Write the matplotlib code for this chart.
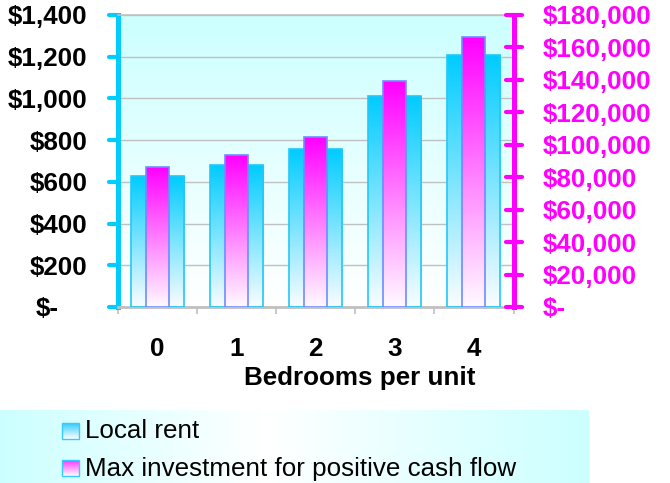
import numpy as np
import matplotlib
matplotlib.use("Agg")
import matplotlib.pyplot as plt
import matplotlib.lines as mlines
from matplotlib.colors import LinearSegmentedColormap
from matplotlib.markers import MarkerStyle
from matplotlib.ticker import FuncFormatter
from matplotlib.transforms import ScaledTranslation
from matplotlib.patches import Rectangle

# ---------------- data ----------------
categories = ["0", "1", "2", "3", "4"]
local_rent = [627, 680, 757, 1011, 1208]
max_investment = [86000, 93400, 104700, 139100, 166200]
left_ticks = [0, 200, 400, 600, 800, 1000, 1200, 1400]
right_ticks = [0, 20000, 40000, 60000, 80000, 100000, 120000, 140000, 160000, 180000]
series_names = ["Local rent", "Max investment for positive cash flow"]
x_title = "Bedrooms per unit"

# ---------------- style ----------------
plt.rcParams['font.family'] = ['Liberation Sans', 'DejaVu Sans']
plt.rcParams['font.weight'] = 'bold'
FS = 18.7
W, H = 670, 483
CYAN = '#00CCFF'
MAG = '#FF00FF'
GRID = '#C0C0C0'

fig = plt.figure(figsize=(W / 100, H / 100), dpi=100)
ax = fig.add_axes([117.5 / W, 1 - 307 / H, 396 / W, 292 / H])
ax2 = ax.twinx()
ax2.patch.set_visible(False)

grad = np.linspace(0, 1, 256).reshape(-1, 1)

# plot-area background gradient
bg_cmap = LinearSegmentedColormap.from_list('bg', ['#FFFFFF', '#CCFFFF'])
ax.imshow(grad, cmap=bg_cmap, extent=[0, 1, 0, 1], transform=ax.transAxes,
          aspect='auto', origin='lower', zorder=0)

x = np.arange(len(categories))
blue_cmap = LinearSegmentedColormap.from_list('b', ['#FAFDFF', '#00CCFF'])
mag_cmap = LinearSegmentedColormap.from_list('m', ['#FFFAFF', '#FF00FF'])

bars1 = ax.bar(x, local_rent, width=0.67, facecolor='none',
               edgecolor='#22C8F8', linewidth=1.2, zorder=3)
for b in bars1:
    x0, w, h = b.get_x(), b.get_width(), b.get_height()
    ax.imshow(grad, cmap=blue_cmap, extent=[x0, x0 + w, 0, h],
              origin='lower', aspect='auto', zorder=2)

bars2 = ax2.bar(x, max_investment, width=0.29, facecolor='none',
                edgecolor='#6F8CFF', linewidth=1.2, zorder=3)
for b in bars2:
    x0, w, h = b.get_x(), b.get_width(), b.get_height()
    ax2.imshow(grad, cmap=mag_cmap, extent=[x0, x0 + w, 0, h],
               origin='lower', aspect='auto', zorder=2)

ax.set_xlim(-0.5, len(categories) - 0.5)
ax.set_ylim(left_ticks[0], left_ticks[-1])
ax2.set_ylim(right_ticks[0], right_ticks[-1])

# grid
ax.set_axisbelow(True)
ax.yaxis.grid(True, color=GRID, linewidth=1.0)

# spines
for s in ['right']:
    ax.spines[s].set_visible(False)
ax.spines['left'].set_color(CYAN)
ax.spines['left'].set_linewidth(3.6)
ax.spines['top'].set_color(GRID)
ax.spines['top'].set_linewidth(1.2)
ax.spines['bottom'].set_color(GRID)
ax.spines['bottom'].set_linewidth(2.0)
for s in ['left', 'top', 'bottom']:
    ax2.spines[s].set_visible(False)
ax2.spines['right'].set_color(MAG)
ax2.spines['right'].set_linewidth(3.6)

# y ticks
money = lambda v, p: "$-" if v == 0 else f"${v:,.0f}"
ax.set_yticks(left_ticks)
ax.yaxis.set_major_formatter(FuncFormatter(money))
ax.tick_params(axis='y', direction='out', length=6.5, width=3, color=CYAN,
               pad=15, labelsize=FS, labelcolor='black')
ax2.set_yticks(right_ticks)
ax2.yaxis.set_major_formatter(FuncFormatter(money))
ax2.tick_params(axis='y', direction='inout', length=11.5, width=3, color=MAG,
                pad=15.5, labelsize=FS, labelcolor=MAG)

# x ticks
ax.set_xticks(x, categories)
ax.set_xticks(np.arange(-0.5, len(categories), 1.0), minor=True)
ax.tick_params(axis='x', which='major', length=0, pad=21.5, labelsize=FS)
ax.tick_params(axis='x', which='minor', length=5, width=1.2, color=GRID)

ax.set_xlabel(x_title, fontsize=FS, fontweight='bold')
ax.xaxis.set_label_coords((360 - 117.5) / 396, (307 - 385) / 292)
ax.xaxis.label.set_va('baseline')

# rounded tick caps
for t in ax.yaxis.get_major_ticks():
    t.tick1line.set_marker(MarkerStyle(mlines.TICKLEFT, capstyle='round'))
for t in ax2.yaxis.get_major_ticks():
    t.tick2line.set_marker(MarkerStyle('_', capstyle='round'))

# accounting-style "$-" on left axis (padding of two digit widths)
fig.canvas.draw()
zero_lbl = ax.yaxis.get_major_ticks()[0].label1
zero_lbl.set_transform(zero_lbl.get_transform() +
                       ScaledTranslation(-0.29, 0, fig.dpi_scale_trans))

# ---------------- legend box ----------------
LW, LH = 589, 73
lax = fig.add_axes([0, 0, LW / W, LH / H])
lg_cmap = LinearSegmentedColormap.from_list(
    'lg', [(0, '#CCFFFF'), (0.45, '#FFFFFF'), (1, '#CCFFFF')])
lax.imshow(np.linspace(0, 1, 256).reshape(1, -1), cmap=lg_cmap,
           extent=[0, LW, LH, 0], aspect='auto', zorder=0)
sq_cmaps = [LinearSegmentedColormap.from_list('s1', ['#33CCFF', '#FFFFFF']),
            LinearSegmentedColormap.from_list('s2', ['#FF33FF', '#FFFFFF'])]
rows = [(13, 29, 28), (50, 66, 66)]
for (top, bot, base), cm, name in zip(rows, sq_cmaps, series_names):
    lax.imshow(grad, cmap=cm, extent=[62, 79, bot, top], origin='upper',
               aspect='auto', zorder=1)
    lax.add_patch(Rectangle((62, top), 17, bot - top, facecolor='none',
                            edgecolor='#33CCFF', linewidth=1.0, zorder=2))
    lax.text(85, base, name, fontsize=FS, fontweight='normal',
             va='baseline', ha='left', color='black')
lax.set_xlim(0, LW)
lax.set_ylim(LH, 0)
lax.axis('off')

fig.savefig('out.png', dpi=100)
